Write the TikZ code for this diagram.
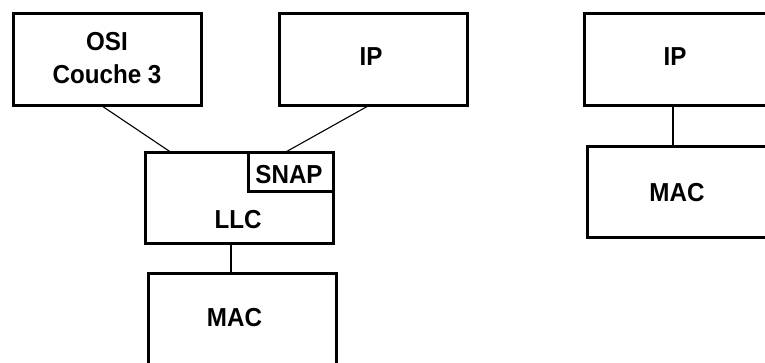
\documentclass[tikz,border=0pt]{standalone}
\usepackage{fontspec}
\setmainfont{Liberation Sans}
\usetikzlibrary{calc}
\tikzset{
  box/.style={draw=black, line width=3pt, inner sep=0pt, outer sep=0pt, fill=none},
  lbl/.style={font=\fontsize{26}{33}\selectfont\bfseries, xscale=0.93, inner sep=0pt, align=center},
  conn/.style={draw=black, line width=1.1pt}
}
\begin{document}
\begin{tikzpicture}[x=1pt,y=-1pt]
\clip (0,0) rectangle (765,363);
\fill[white] (0,0) rectangle (765,363);
% left group
\node[box, minimum width=188pt, minimum height=92pt] (osi) at (107,60) {};
\node[lbl] (osit) at (107,58.5) {OSI\\Couche 3};
\node[box, minimum width=188pt, minimum height=92pt] (ip) at (373,60) {};
\node[lbl] (ipt) at (371,56.5) {IP};
\node[box, minimum width=188pt, minimum height=91pt] (llc) at (239,198.5) {};
\node[lbl] (llct) at (238,220) {LLC};
\node[box, minimum width=85pt, minimum height=39pt] (snap) at (290.5,172.5) {};
\node[lbl] (snapt) at (289,175) {SNAP};
\node[box, minimum width=188pt, minimum height=120pt] (mac) at (242,333) {};
\node[lbl] (mact) at (234.5,317.5) {MAC};
% right group
\node[box, minimum width=182pt, minimum height=92pt] (ip2) at (675,60) {};
\node[lbl] (ip2t) at (675,56.5) {IP};
\node[box, minimum width=182pt, minimum height=91pt] (mac2) at (678,192.5) {};
\node[lbl] (mac2t) at (677,192.5) {MAC};
% connectors
\draw[conn] ($(osi.south)+(-5,0)$) -- ($(llc.north)+(-67,0)$);
\draw[conn] ($(ip.south)+(-5,0)$) -- ($(llc.north)+(45,0)$);
\draw[conn] ($(llc.south)+(-8,0)$) -- ($(mac.north)+(-11,0)$);
\draw[conn] ($(ip2.south)+(-2,0)$) -- ($(mac2.north)+(-5,0)$);
\end{tikzpicture}
\end{document}
